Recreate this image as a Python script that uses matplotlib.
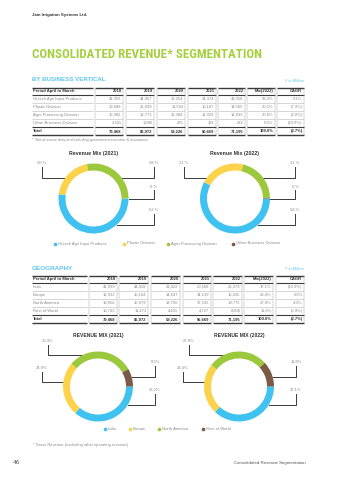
import numpy as np
import matplotlib
matplotlib.use("Agg")
import matplotlib.pyplot as plt

plt.rcParams["font.family"] = ["Liberation Sans", "DejaVu Sans"]

# ---- data ----
years = ["2018", "2019", "2020", "2021", "2022"]

vertical_names = ["Hi-tech Agri Input Products", "Plastic Division",
                  "Agro Processing Division", "Other Business Division"]
vertical_values = [
    [41356, 44467, 31054, 34374, 41558],
    [19688, 21839, 11564, 10187, 14565],
    [16082, 18771, 16384, 11929, 14839],
    [2341, 1896, 225, 181, 232],
]
vertical_mix = ["58.4%", "20.5%", "20.8%", "0.3%"]
vertical_cagr = ["0.1%", "(7.3%)", "(2.0%)", "(43.9%)"]
vertical_share_2021 = [52, 20, 28, 0.0]
vertical_share_2022 = [58, 21, 21, 0.3]

geo_names = ["India", "Europe", "North America", "Rest of World"]
geo_values = [
    [41939, 44418, 21422, 20568, 26379],
    [12932, 15104, 14647, 14139, 16635],
    [13854, 15979, 18756, 17235, 19775],
    [10743, 11473, 4401, 4727, 8406],
]
geo_mix = ["37.1%", "23.4%", "27.8%", "11.8%"]
geo_cagr = ["(10.9%)", "6.5%", "9.3%", "(5.9%)"]
geo_share_2021 = [36.2, 24.9, 30.4, 8.3]
geo_share_2022 = [37.1, 23.4, 27.8, 11.8]

total_values = [79468, 86972, 59226, 56669, 71195]
total_mix = "100.0%"
total_cagr = "(2.7%)"

colors = ["#3fc2ef", "#fdd24b", "#9cc83d", "#7b5b45"]
GREEN = "#a5cf3c"
CYAN = "#5ec6ee"
DARK = "#333333"
GREY = "#8a8a8a"
LINE = "#3a3a3a"

W, H = 340, 480
fig = plt.figure(figsize=(3.4, 4.8), dpi=100)
fig.patch.set_facecolor("white")
page = fig.add_axes([0, 0, 1, 1])
page.set_xlim(0, W)
page.set_ylim(H, 0)
page.axis("off")


def fmt(v):
    return f"{v:,}"


def draw_table(y0, cols, names, values, mix, cagr):
    header = ["Period April to March"] + years + ["Mix(2022)", "CAGR"]
    n = len(names)
    y_text = [y0 + 11 + 8 * i for i in range(n)]
    y_total = y0 + 11 + 8 * n
    y_end = y_total + 4
    for j, (x0, x1) in enumerate(cols):
        # header
        page.plot([x0, x1], [y0, y0], color=LINE, lw=1.0, solid_capstyle="butt")
        page.plot([x0, x1], [y0 + 6.5, y0 + 6.5], color=LINE, lw=0.8, solid_capstyle="butt")
        if j == 0:
            page.text(x0 + 1, y0 + 3.3, header[j], fontsize=3.0, fontweight="bold",
                      color=DARK, va="center", ha="left")
        else:
            page.text(x1 - 1.5, y0 + 3.3, header[j], fontsize=3.0, fontweight="bold",
                      color=DARK, va="center", ha="right")
            page.plot([x0, x0], [y0, y_end], color="#9a9a9a", lw=0.3)
            page.plot([x1, x1], [y0, y_end], color="#9a9a9a", lw=0.3)
        for i in range(n):
            if j == 0:
                cell = names[i]
            elif j <= len(years):
                cell = fmt(values[i][j - 1])
            elif j == len(years) + 1:
                cell = mix[i]
            else:
                cell = cagr[i]
            if j == 0:
                page.text(x0 + 1, y_text[i], cell, fontsize=3.0, color=GREY, va="center", ha="left")
            else:
                page.text(x1 - 1.5, y_text[i], cell, fontsize=3.0, color=GREY, va="center", ha="right")
            yl = y_text[i] + 4
            page.plot([x0, x1], [yl, yl], color=LINE if i == n - 1 else "#b5b5b5",
                      lw=0.8 if i == n - 1 else 0.4, solid_capstyle="butt")
        if j == 0:
            cell = "Total"
        elif j <= len(years):
            cell = fmt(total_values[j - 1])
        elif j == len(years) + 1:
            cell = total_mix
        else:
            cell = total_cagr
        if j == 0:
            page.text(x0 + 1, y_total, cell, fontsize=3.0, fontweight="bold", color=DARK,
                      va="center", ha="left")
        else:
            page.text(x1 - 1.5, y_total, cell, fontsize=3.0, fontweight="bold", color=DARK,
                      va="center", ha="right")
        page.plot([x0, x1], [y_end, y_end], color=LINE, lw=1.0, solid_capstyle="butt")


def donut(cx, cy, r, shares, title, title_y, title_kw):
    ax = fig.add_axes([(cx - r) / W, 1 - (cy + r) / H, 2 * r / W, 2 * r / H])
    ax.pie(shares, colors=colors, startangle=0, counterclock=False, radius=1,
           wedgeprops=dict(width=0.2, linewidth=0))
    ax.set_xlim(-1, 1)
    ax.set_ylim(-1, 1)
    ax.set_aspect("auto")
    ax.axis("off")
    page.text(cx, title_y, title, ha="center", va="center", color=DARK, **title_kw)


def leader(cx, cy, r, lx, ty, ey, label, side):
    # label above a vertical tick, then horizontal line to the ring edge
    dy = ey - cy
    edge = np.sqrt(max(r * r - dy * dy, 0))
    ex = cx - edge if side == "left" else cx + edge
    page.plot([lx, lx, ex], [ty + 3.5, ey, ey], color=LINE, lw=0.7)
    page.text(lx, ty, label, ha="center", va="center", fontsize=3.0, color=GREY)


# ---- header ----
page.text(32, 15, "Jain Irrigation Systems Ltd.", fontsize=3.1, fontweight="bold",
          color=DARK, va="center")
title = page.text(32, 55, "CONSOLIDATED REVENUE* SEGMENTATION", fontsize=9.0, fontweight="bold",
                  color=GREEN, va="center",
                  family=["Roboto Condensed", "DejaVu Sans Condensed", "Liberation Sans Narrow",
                          "Liberation Sans"])
# fit the title to the width it has on the page (x 32 -> 263)
renderer = fig.canvas.get_renderer()
tw = title.get_window_extent(renderer).width
title.set_fontsize(9.0 * 231.0 / tw)

# ---- business vertical ----
page.text(32, 79.5, "BY BUSINESS VERTICAL", fontsize=4.4, fontweight="bold", color=CYAN, va="center")
page.text(304, 80.5, "₹ in Million", fontsize=2.8, color=CYAN, va="center", ha="right")
bv_cols = [(32, 93), (95, 123), (126, 154), (157, 185), (188, 216), (218, 245), (247, 275), (277, 304)]
draw_table(88, bv_cols, vertical_names, vertical_values, vertical_mix, vertical_cagr)
page.text(32, 139.5, "*  Net of excise duty and including government incentive & assistance",
          fontsize=2.7, color=GREY, va="center")

R = 35
bv_cy = 198.5
for cx, shares, yr in [(93.5, vertical_share_2021, "2021"), (235, vertical_share_2022, "2022")]:
    donut(cx, bv_cy, R, shares, f"Revenue Mix ({yr})", 153,
          dict(fontsize=3.8, fontweight="bold"))
    labels = [f"{v:.0f} %" for v in shares]
    leader(cx, bv_cy, R, cx - 51.5, 163, 177.5, labels[1], "left")
    leader(cx, bv_cy, R, cx + 60, 163, 177.5, labels[2], "right")
    leader(cx, bv_cy, R, cx + 60, 186.5, 198.5, labels[3], "right")
    leader(cx, bv_cy, R, cx + 60, 210, 224.5, labels[0], "right")

bv_legend_x = [55, 124, 168, 233]
for x, c, name in zip(bv_legend_x, colors, vertical_names):
    page.scatter([x], [243.5], s=7, color=c, linewidths=0)
    page.text(x + 3, 243.5, name, fontsize=3.0, color=GREY, va="center")

# ---- geography ----
page.text(32, 268, "GEOGRAPHY", fontsize=4.6, fontweight="bold", color=CYAN, va="center")
page.text(304, 268.5, "₹ in Million", fontsize=2.8, color=CYAN, va="center", ha="right")
geo_cols = [(32, 87), (89, 117), (119, 148), (151, 180), (183, 211), (213, 242), (244, 273), (276, 304)]
draw_table(276, geo_cols, geo_names, geo_values, geo_mix, geo_cagr)

geo_cy = 386.5
for cx, shares, yr in [(98, geo_share_2021, "2021"), (239, geo_share_2022, "2022")]:
    donut(cx, geo_cy, R, shares, f"REVENUE MIX ({yr})", 336,
          dict(fontsize=3.6, fontweight="bold"))
    labels = [f"{v}%" for v in shares]
    leader(cx, geo_cy, R, cx - 50, 341, 355, labels[2], "left")
    leader(cx, geo_cy, R, cx - 56, 368, 382, labels[1], "left")
    leader(cx, geo_cy, R, cx + 57, 362, 377, labels[3], "right")
    leader(cx, geo_cy, R, cx + 57, 390, 405, labels[0], "right")

geo_legend_x = [105, 130, 159, 203]
for x, c, name in zip(geo_legend_x, colors, geo_names):
    page.scatter([x], [429], s=7, color=c, linewidths=0)
    page.text(x + 3, 429, name, fontsize=3.0, color=GREY, va="center")

page.text(33, 445, "* Gross Revenue (excluding other operating revenue)", fontsize=2.9,
          color=GREY, va="center")

# ---- footer ----
page.text(13, 462, "46", fontsize=4.6, color="#555555", va="center")
page.text(306, 463, "Consolidated Revenue Segmentation", fontsize=3.2, color="#555555",
          va="center", ha="right")

fig.savefig("out.png", dpi=100, facecolor="white")
